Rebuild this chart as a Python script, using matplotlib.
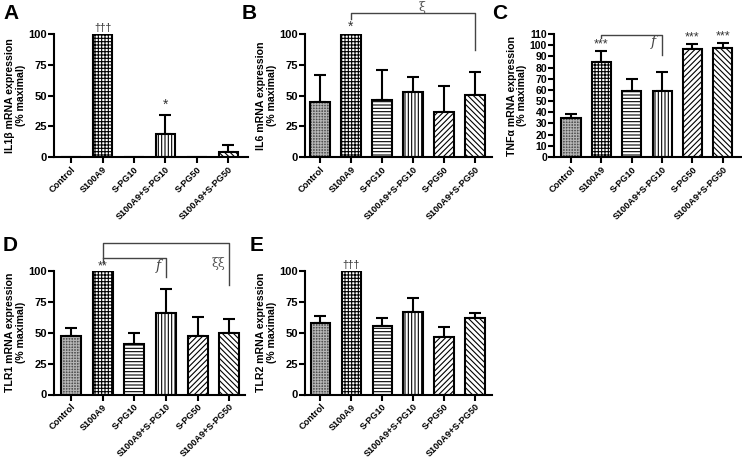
import numpy as np
import matplotlib
matplotlib.use("Agg")
import matplotlib.pyplot as plt

plt.rcParams['font.family'] = ['Liberation Sans', 'DejaVu Sans']
plt.rcParams['hatch.linewidth'] = 0.8

groups = ["Control", "S100A9", "S-PG10", "S100A9+S-PG10", "S-PG50", "S100A9+S-PG50"]

il1b_mean = [0, 100, 0, 18.5, 0, 4]
il1b_sem = [0, 0, 0, 16, 0, 6]

il6_mean = [45, 100, 46, 52.5, 36.5, 50.3]
il6_sem = [21.5, 0, 24.5, 12.5, 21, 18.7]

tnfa_mean = [35.3, 84.7, 58.9, 58.6, 96.9, 97.5]
tnfa_sem = [3.6, 10.1, 11, 17.4, 3.9, 4.7]

tlr1_mean = [47.5, 100, 40.5, 66.2, 47, 49.5]
tlr1_sem = [6.5, 0, 9, 19.2, 15.7, 11.5]

tlr2_mean = [57.6, 100, 55.4, 66.5, 46.2, 61.6]
tlr2_sem = [6.2, 0, 6.2, 11.9, 8.1, 4.6]

# fill colour, hatch, hatch colour for each group
styles = [
    ('#505050', '++++++', '#b4b4b4'),
    ('white', '+++++', 'black'),
    ('white', '-----', 'black'),
    ('white', '|||||', 'black'),
    ('white', '//////', 'black'),
    ('white', '\\\\\\\\\\\\', 'black'),
]

W, H = 742, 458
fig = plt.figure(figsize=(W / 100, H / 100), dpi=100)


def px_axes(left, right, top, bottom):
    return fig.add_axes([left / W, 1 - bottom / H, (right - left) / W, (bottom - top) / H])


def bar_panel(ax, mean, sem, ylabel, yticks, xlim, ysize=8):
    x = np.arange(len(groups))
    for i in range(len(groups)):
        fc, hatch, hc = styles[i]
        ax.bar(x[i], mean[i], width=0.63, color=fc, hatch=hatch, edgecolor=hc,
               linewidth=0, zorder=2)
    ax.bar(x, mean, width=0.63, facecolor='none', edgecolor='black',
           linewidth=1.5, zorder=3)
    sem = np.array(sem, dtype=float)
    m = sem > 0
    ax.errorbar(x[m], np.array(mean)[m], yerr=[np.zeros(m.sum()), sem[m]],
                fmt='none', ecolor='black', elinewidth=1.5, capsize=4,
                capthick=1.5, zorder=1)
    ax.set_xlim(*xlim)
    ax.set_ylim(yticks[0], yticks[-1])
    ax.set_yticks(yticks)
    ax.set_xticks(x)
    ax.set_xticklabels(groups, rotation=45, ha='right', rotation_mode='anchor',
                       fontsize=6.6, fontweight='bold')
    for lab in ax.get_yticklabels():
        lab.set_fontweight('bold')
    ax.tick_params(axis='y', labelsize=ysize, length=4, width=1.5, pad=1)
    ax.tick_params(axis='x', length=4, width=1.5, pad=1.5)
    for s in ['top', 'right']:
        ax.spines[s].set_visible(False)
    for s in ['left', 'bottom']:
        ax.spines[s].set_linewidth(1.5)
    ax.set_ylabel(ylabel, fontsize=7.6, fontweight='bold', labelpad=2,
                  linespacing=1.05)


def mark(ax, x, y, txt, size=10, family=None):
    ax.text(x, y, txt, ha='center', va='bottom', fontsize=size,
            color='#333333', clip_on=False, family=family)


def bracket(ax, x0, x1, y, yl, yr, color='#444444'):
    ax.plot([x0, x0, x1, x1], [yl, y, y, yr], color=color, lw=1,
            clip_on=False, zorder=4)


axA = px_axes(54, 248, 34, 157)
bar_panel(axA, il1b_mean, il1b_sem, "IL1\u03b2 mRNA expression\n(% maximal)",
          [0, 25, 50, 75, 100], (-0.54, 5.62))
mark(axA, 1, 100.5, "\u2020\u2020\u2020", size=7.5)
mark(axA, 3, 36.5, "*", size=10)

axB = px_axes(305, 492, 34, 157)
bar_panel(axB, il6_mean, il6_sem, "IL6 mRNA expression\n(% maximal)",
          [0, 25, 50, 75, 100], (-0.48, 5.55))
mark(axB, 1, 100, "*", size=10)
bracket(axB, 1, 5, 117, 112, 87)
axB.text(3.3, 116, "\u03be", ha='center', va='bottom', fontsize=9,
         color='#555555', family='DejaVu Serif', clip_on=False)

axC = px_axes(554, 741, 34, 157)
bar_panel(axC, tnfa_mean, tnfa_sem, "TNF\u03b1 mRNA expression\n(% maximal)",
          list(range(0, 111, 10)), (-0.56, 5.6), ysize=7.5)
for i in [1, 4, 5]:
    mark(axC, i, tnfa_mean[i] + tnfa_sem[i] + 0.5, "***", size=9)
bracket(axC, 1, 3, 109.4, 106.5, 91)
axC.text(2.72, 97, "f", ha='center', va='bottom', fontsize=10, style='italic',
         color='#444444', family='DejaVu Serif', clip_on=False)

axD = px_axes(54, 245, 271, 394.5)
bar_panel(axD, tlr1_mean, tlr1_sem, "TLR1 mRNA expression\n(% maximal)",
          [0, 25, 50, 75, 100], (-0.54, 5.5))
mark(axD, 1, 99, "**", size=9)
bracket(axD, 1, 5, 122.6, 107.5, 89)
bracket(axD, 1, 3, 110.7, 110.7, 95.3)
axD.text(2.75, 98, "f", ha='center', va='bottom', fontsize=10, style='italic',
         color='#444444', family='DejaVu Serif', clip_on=False)
axD.text(4.66, 101, "\u03be\u03be", ha='center', va='bottom', fontsize=9,
         color='#555555', family='DejaVu Serif', clip_on=False)

axE = px_axes(305, 492, 271, 394.5)
bar_panel(axE, tlr2_mean, tlr2_sem, "TLR2 mRNA expression\n(% maximal)",
          [0, 25, 50, 75, 100], (-0.5, 5.55))
mark(axE, 1, 100.5, "\u2020\u2020\u2020", size=7.5)

for lbl, xp, yp in [("A", 3, 4), ("B", 242, 4), ("C", 492, 4),
                    ("D", 3, 236), ("E", 250, 236)]:
    fig.text(xp / W, 1 - yp / H, lbl, fontsize=15, fontweight='bold',
             va='top', ha='left')

fig.savefig("out.png", dpi=100)
